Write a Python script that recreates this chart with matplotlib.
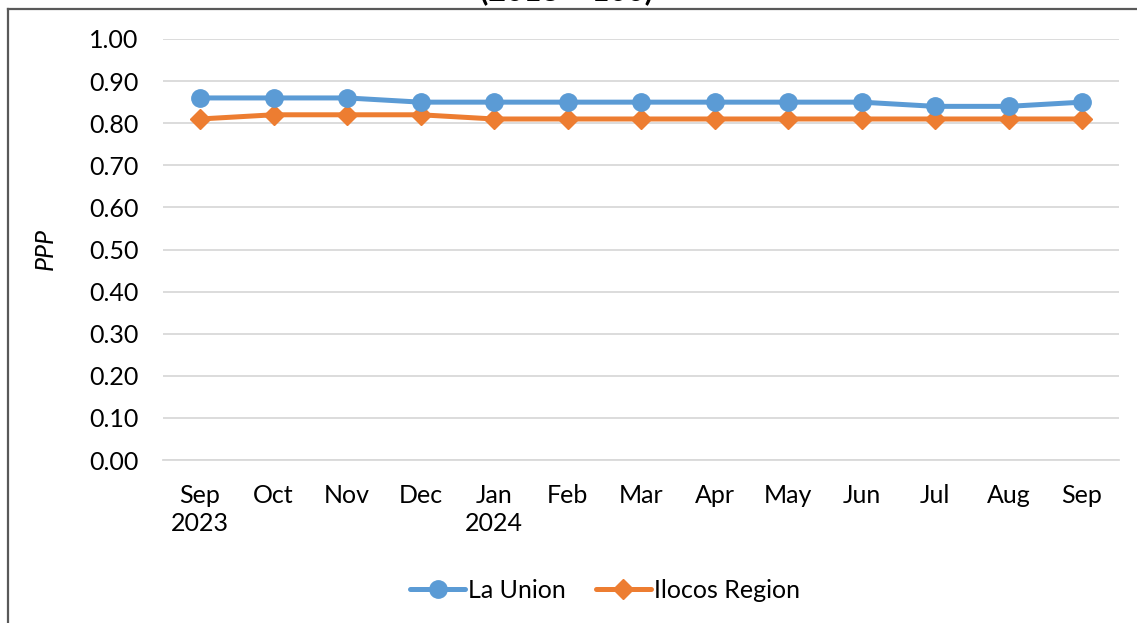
import matplotlib
matplotlib.use("Agg")
import matplotlib.pyplot as plt
from matplotlib.lines import Line2D

months = ["Sep\n2023", "Oct", "Nov", "Dec", "Jan\n2024", "Feb", "Mar", "Apr",
          "May", "Jun", "Jul", "Aug", "Sep"]
la_union = [0.86, 0.86, 0.86, 0.85, 0.85, 0.85, 0.85, 0.85, 0.85, 0.85, 0.84, 0.84, 0.85]
ilocos = [0.81, 0.82, 0.82, 0.82, 0.81, 0.81, 0.81, 0.81, 0.81, 0.81, 0.81, 0.81, 0.81]
yticks = [0.0, 0.1, 0.2, 0.3, 0.4, 0.5, 0.6, 0.7, 0.8, 0.9, 1.0]
title = "(2018 = 100)"
ylabel = "PPP"

plt.rcParams['font.family'] = ['Lato', 'DejaVu Sans']
FS = 18
W, H = 1137, 623
fig = plt.figure(figsize=(W / 100, H / 100), dpi=100)
ax = fig.add_axes([163.25 / W, 1 - 460 / H, (1118.75 - 163.25) / W, (460 - 39) / H])

x = list(range(len(months)))
blue = "#5B9BD5"
orange = "#ED7D31"
ax.plot(x, la_union, color=blue, lw=3.6, marker="o", ms=12.5, label="La Union",
        solid_capstyle="round", zorder=4)
ax.plot(x, ilocos, color=orange, lw=3.6, marker="D", ms=10, label="Ilocos Region",
        solid_capstyle="round", zorder=3)

ax.set_xlim(-0.5, len(months) - 0.5)
ax.set_ylim(0, 1.0)
ax.set_yticks(yticks)
ax.set_yticklabels([f"{v:.2f}" for v in yticks])
ax.set_xticks(x)
ax.set_xticklabels(months, linespacing=1.3)
ax.tick_params(axis="both", length=0, labelsize=FS, colors="black")
ax.tick_params(axis="y", pad=18)
ax.tick_params(axis="x", pad=17)
ax.grid(axis="y", color="#D9D9D9", lw=1.3)
ax.set_axisbelow(True)
for s in ["top", "right", "left"]:
    ax.spines[s].set_visible(False)
ax.spines["bottom"].set_color("#D9D9D9")
ax.spines["bottom"].set_linewidth(1.3)

ax.set_ylabel(ylabel, fontsize=FS, style="italic")
ax.yaxis.set_label_coords(-(163.25 - 57) / (1118.75 - 163.25), 0.5)

leg = ax.legend(loc="center", bbox_to_anchor=(605 / W, 1 - 590 / H),
                bbox_transform=fig.transFigure, ncol=2, frameon=False,
                fontsize=FS, handlelength=2.2, handletextpad=0.12,
                columnspacing=1.2)

# title (cropped at top of picture, as in the reference)
fig.text(567 / W, 1 - 0.5 / H, title, ha="center", va="baseline",
         fontsize=22, fontweight="bold")

# chart area border
fr = "#595959"
fig.add_artist(Line2D([7.5 / W, 7.5 / W], [0, 1 - 8.5 / H], transform=fig.transFigure,
                      color=fr, lw=1.6))
fig.add_artist(Line2D([7.5 / W, 1.0], [1 - 8.5 / H, 1 - 8.5 / H], transform=fig.transFigure,
                      color=fr, lw=1.6))

fig.savefig("out.png", dpi=100)
